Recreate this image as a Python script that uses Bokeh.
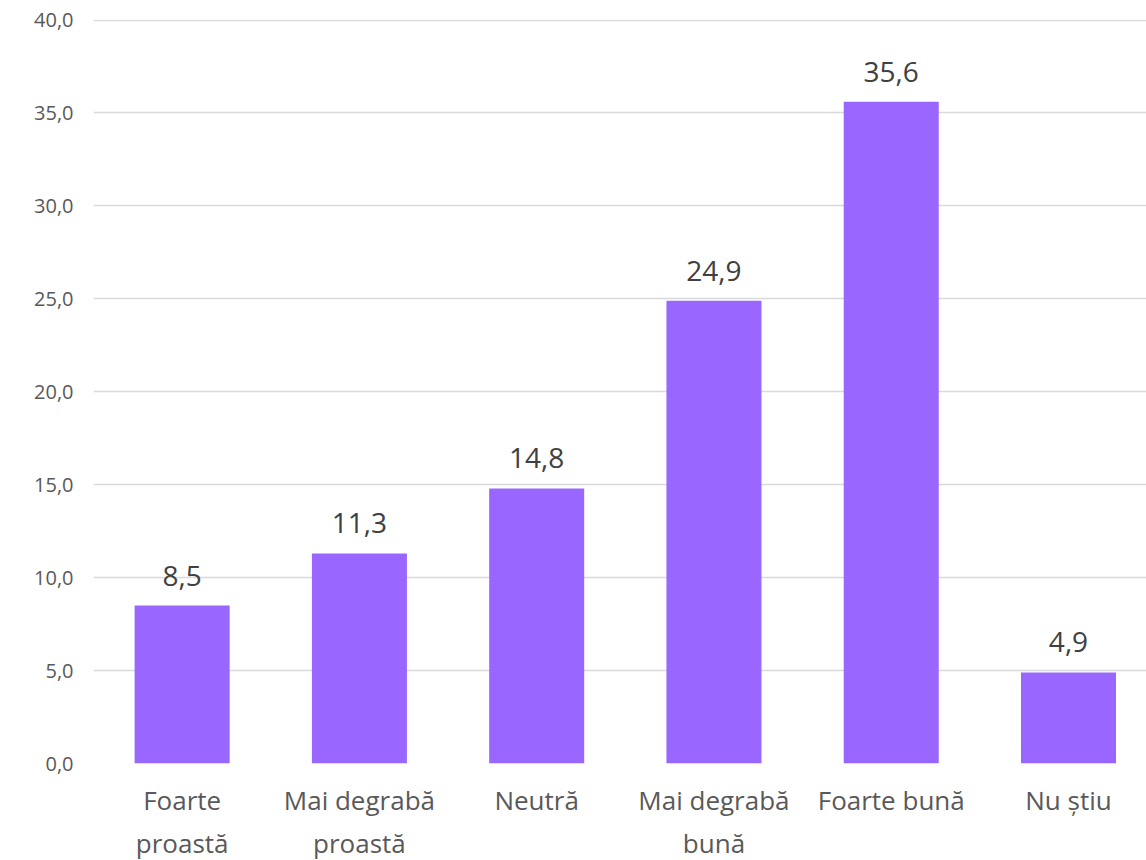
from bokeh.plotting import figure
from bokeh.models import Range1d, FixedTicker, ColumnDataSource
from bokeh.core.properties import value
from bokeh.embed import file_html
from bokeh.resources import INLINE

categories = ["Foarte\nproastă", "Mai degrabă\nproastă", "Neutră", "Mai degrabă\nbună", "Foarte bună", "Nu știu"]
values = [8.5, 11.3, 14.8, 24.9, 35.6, 4.9]
y_ticks = [0, 5, 10, 15, 20, 25, 30, 35, 40]

FONT = "Open Sans"

xs = list(range(len(categories)))
src = ColumnDataSource(dict(x=xs, top=values,
                            label=[f"{v:.1f}".replace(".", ",") for v in values]))

p = figure(frame_width=1053, frame_height=744, output_backend="svg", toolbar_location=None,
           x_range=Range1d(-0.5, 5.44), y_range=Range1d(0, 40.03),
           min_border_left=93, min_border_right=0, min_border_top=19, min_border_bottom=97)
p.outline_line_color = None
p.background_fill_color = "white"

p.vbar(x="x", top="top", width=0.536, bottom=0, source=src,
       fill_color="#9966FF", line_color=None)

p.text(x="x", y="top", text="label", source=src, text_align="center",
       text_baseline="alphabetic", y_offset=-30, text_font=value(FONT),
       text_font_size="28px", text_color="#404040")

p.xgrid.visible = False
p.ygrid.grid_line_color = "#D9D9D9"
p.ygrid.grid_line_width = 1.5
p.ygrid.ticker = FixedTicker(ticks=y_ticks)

p.yaxis.ticker = FixedTicker(ticks=y_ticks)
p.yaxis.major_label_overrides = {t: f"{t:.1f}".replace(".", ",") for t in y_ticks}
p.yaxis.axis_line_color = None
p.yaxis.major_tick_line_color = None
p.yaxis.minor_tick_line_color = None
p.yaxis.major_label_text_font = FONT
p.yaxis.major_label_text_font_size = "20px"
p.yaxis.major_label_text_color = "#595959"
p.yaxis.major_label_standoff = 14

p.xaxis.ticker = FixedTicker(ticks=xs)
p.xaxis.major_label_overrides = {i: c for i, c in enumerate(categories)}
p.xaxis.axis_line_color = None
p.xaxis.major_tick_line_color = None
p.xaxis.minor_tick_line_color = None
p.xaxis.major_label_text_font = FONT
p.xaxis.major_label_text_font_size = "26px"
p.xaxis.major_label_text_color = "#595959"
p.xaxis.major_label_standoff = 12

open("out.html", "w").write(file_html(p, INLINE))
